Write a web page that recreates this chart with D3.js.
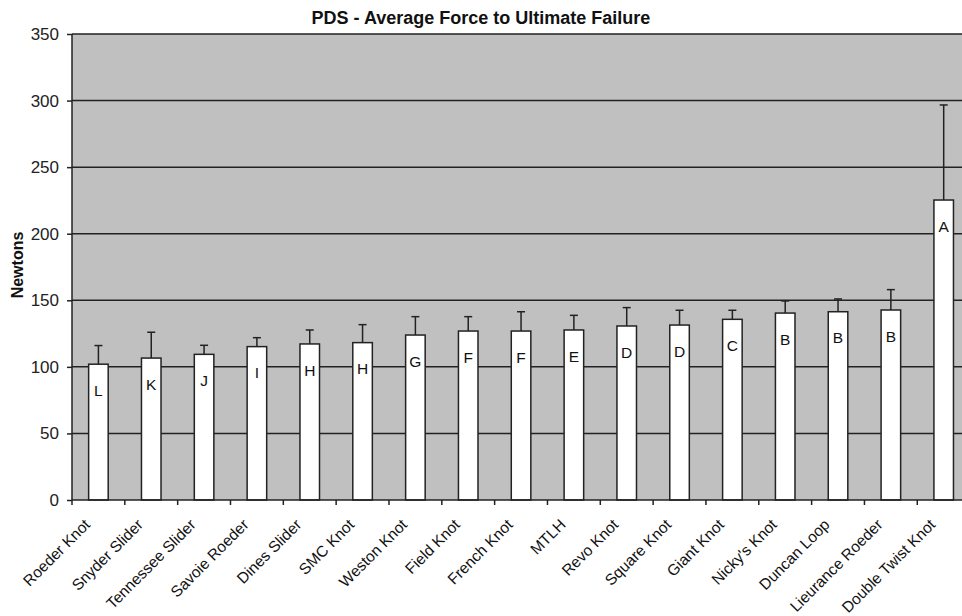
<!DOCTYPE html>
<html>
<head>
<meta charset="utf-8">
<script src="https://cdn.jsdelivr.net/npm/d3@7"></script>
<style>
  html, body { margin: 0; padding: 0; background: #fff; }
  svg { display: block; font-family: Arial, "Liberation Sans", sans-serif; }
</style>
</head>
<body>
<svg id="chart" width="962" height="616"></svg>
<script>
// Knot types, in order of increasing mean failure force
const categories = ["Roeder Knot", "Snyder Slider", "Tennessee Slider", "Savoie Roeder", "Dines Slider",
  "SMC Knot", "Weston Knot", "Field Knot", "French Knot", "MTLH", "Revo Knot", "Square Knot",
  "Giant Knot", "Nicky's Knot", "Duncan Loop", "Lieurance Roeder", "Double Twist Knot"];

// Average force to ultimate failure (N)
const means = [102, 106.6, 109.4, 115.2, 117.2, 118.2, 123.9, 126.9, 126.9, 127.7,
  130.7, 131.4, 135.7, 140.4, 141.4, 142.7, 225.3];

// Standard deviation (N), drawn as upward error bars
const sds = [14, 19.4, 6.8, 6.7, 10.5, 13.5, 13.8, 10.8, 14.5, 11,
  13.8, 11.1, 6.8, 9.1, 9.6, 15.3, 71.4];

// Statistical grouping letters
const groups = ["L", "K", "J", "I", "H", "H", "G", "F", "F", "E", "D", "D", "C", "B", "B", "B", "A"];

const yTicks = [0, 50, 100, 150, 200, 250, 300, 350];

const data = categories.map((c, i) => ({ name: c, mean: means[i], sd: sds[i], group: groups[i] }));

const svg = d3.select("#chart");
const plotLeft = 72, plotTop = 34, plotBottom = 500;
const step = 52.83;
const plotRight = plotLeft + step * categories.length;

const x = d3.scaleBand().domain(categories).range([plotLeft, plotRight])
  .paddingInner(0.63).paddingOuter(0.315);
const y = d3.scaleLinear().domain([0, 350]).range([plotBottom, plotTop]);

// Plot background
svg.append("rect").attr("x", plotLeft).attr("y", plotTop)
  .attr("width", plotRight - plotLeft).attr("height", plotBottom - plotTop).attr("fill", "#c0c0c0");

// Horizontal gridlines
svg.append("g").selectAll("line").data(yTicks.filter(v => v > 0)).join("line")
  .attr("x1", plotLeft).attr("x2", plotRight)
  .attr("y1", d => y(d)).attr("y2", d => y(d))
  .attr("stroke", "#222").attr("stroke-width", 1.5);

// Error bars
const eb = svg.append("g").attr("stroke", "#222").attr("stroke-width", 1.5);
eb.selectAll("line.v").data(data).join("line").attr("class", "v")
  .attr("x1", d => x(d.name) + x.bandwidth() / 2).attr("x2", d => x(d.name) + x.bandwidth() / 2)
  .attr("y1", d => y(d.mean)).attr("y2", d => y(d.mean + d.sd));
eb.selectAll("line.cap").data(data).join("line").attr("class", "cap")
  .attr("x1", d => x(d.name) + x.bandwidth() / 2 - 4).attr("x2", d => x(d.name) + x.bandwidth() / 2 + 4)
  .attr("y1", d => y(d.mean + d.sd)).attr("y2", d => y(d.mean + d.sd));

// Bars
svg.append("g").selectAll("rect").data(data).join("rect")
  .attr("x", d => x(d.name)).attr("width", x.bandwidth())
  .attr("y", d => y(d.mean)).attr("height", d => y(0) - y(d.mean))
  .attr("fill", "#fff").attr("stroke", "#222").attr("stroke-width", 1.5);

// Grouping letters inside the bars
svg.append("g").selectAll("text").data(data).join("text")
  .attr("x", d => x(d.name) + x.bandwidth() / 2)
  .attr("y", d => y(d.mean) + 26)
  .attr("dy", "0.36em")
  .attr("text-anchor", "middle")
  .attr("font-size", 15.5).attr("fill", "#111")
  .text(d => d.group);

// Axis lines
svg.append("line").attr("x1", plotLeft).attr("x2", plotLeft).attr("y1", plotTop).attr("y2", plotBottom)
  .attr("stroke", "#222").attr("stroke-width", 1.5);
svg.append("line").attr("x1", plotLeft).attr("x2", plotRight).attr("y1", plotBottom).attr("y2", plotBottom)
  .attr("stroke", "#222").attr("stroke-width", 1.5);

// Y axis
const yAxis = svg.append("g").attr("transform", `translate(${plotLeft},0)`)
  .call(d3.axisLeft(y).tickValues(yTicks).tickSize(5).tickPadding(8));
yAxis.select(".domain").remove();
yAxis.selectAll(".tick line").attr("stroke", "#222").attr("stroke-width", 1.5);
yAxis.selectAll(".tick text").attr("font-size", 17).attr("fill", "#222")
  .attr("font-family", "Arial, 'Liberation Sans', sans-serif");

// X ticks at category boundaries
const bounds = categories.map(c => x(c) - (x.step() - x.bandwidth()) / 2).concat([plotRight]);
svg.append("g").selectAll("line").data(bounds).join("line")
  .attr("x1", d => d).attr("x2", d => d).attr("y1", plotBottom).attr("y2", plotBottom + 5)
  .attr("stroke", "#222").attr("stroke-width", 1.5);

// X labels, rotated
svg.append("g").selectAll("text").data(data).join("text")
  .attr("transform", d => `translate(${x(d.name) + x.bandwidth() / 2 - 15},${plotBottom + 18}) rotate(-45)`)
  .attr("text-anchor", "end")
  .attr("dy", "0.7em")
  .attr("font-size", 15.5).attr("fill", "#111")
  .text(d => d.name);

// Title
svg.append("text").attr("x", 481).attr("y", 24).attr("text-anchor", "middle")
  .attr("font-size", 18).attr("font-weight", "bold").attr("fill", "#111")
  .text("PDS - Average Force to Ultimate Failure");

// Y axis title
svg.append("text").attr("transform", "translate(23,265) rotate(-90)")
  .attr("text-anchor", "middle")
  .attr("font-size", 16).attr("font-weight", "bold").attr("fill", "#111")
  .text("Newtons");
</script>
</body>
</html>
